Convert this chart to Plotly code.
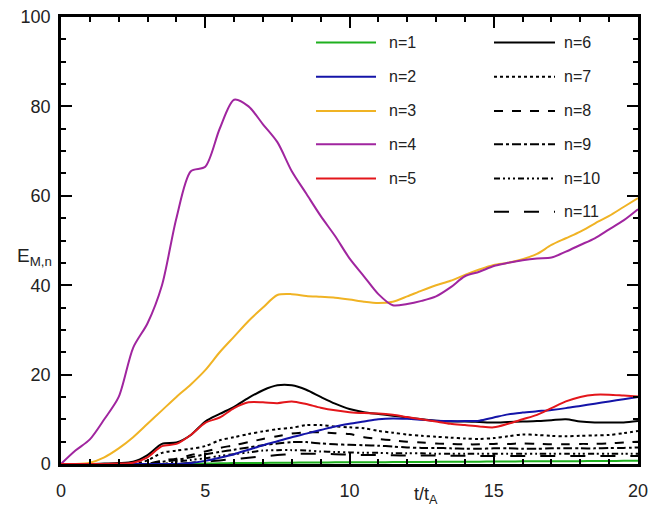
import plotly.graph_objects as go

# ---------------- data ----------------
t = [i * 0.5 for i in range(41)]

n1 = [0, 0, 0, 0, 0, 0, 0, 0, 0, 0.05, 0.1, 0.15, 0.2, 0.22, 0.25, 0.27, 0.3, 0.32, 0.34, 0.37, 0.4,
      0.4, 0.4, 0.42, 0.44, 0.46, 0.48, 0.5, 0.5, 0.52, 0.55, 0.57, 0.6, 0.6, 0.6, 0.62, 0.64, 0.66, 0.68, 0.7, 0.7]
n2 = [0, 0, 0, 0, 0, 0, 0, 0, 0, 0.2, 0.7, 1.4, 2.2, 3.2, 4.2, 5.1, 6.0, 6.8, 7.6, 8.4, 9.0,
      9.5, 10.0, 10.2, 10.1, 9.9, 9.7, 9.6, 9.6, 9.7, 10.4, 11.1, 11.5, 11.8, 12.1, 12.5, 13.0, 13.5, 14.0, 14.5, 15.0]
n3 = [0, 0, 0.3, 1.5, 3.5, 6, 9, 12, 15, 17.8, 21, 25, 28.5, 32, 35, 37.8, 38, 37.6, 37.4, 37.2, 36.8,
      36.3, 36, 36.3, 37.5, 38.8, 40, 41, 42.3, 43.5, 44.5, 45, 45.8, 47, 49, 50.5, 52, 53.8, 55.5, 57.5, 59.5]
n4 = [0, 3, 5.5, 10, 15, 26, 31.5, 40, 55, 65.5, 66.5, 75, 81.5, 80, 76, 72, 65.5, 60.5, 55.5, 51, 46,
      42, 38, 35.5, 35.8, 36.5, 37.5, 39.5, 42, 43, 44.3, 45, 45.6, 46, 46.2, 47.5, 49, 50.5, 52.5, 54.5, 57]
n5 = [0, 0, 0, 0, 0.1, 0.3, 1.5, 4, 4.5, 6.5, 9.2, 10.4, 12.5, 13.8, 13.8, 13.6, 14, 13.4, 12.6, 12, 11.6,
      11.4, 11.3, 11, 10.5, 10, 9.5, 9, 8.7, 8.4, 8.2, 9, 10, 11, 12.5, 14, 15, 15.5, 15.5, 15.3, 15.1]
n6 = [0, 0, 0, 0.1, 0.2, 0.5, 2, 4.5, 4.8, 6.5, 9.5, 11.2, 12.8, 14.8, 16.5, 17.6, 17.6, 16.6, 15, 13.5, 12.3,
      11.6, 11.2, 10.8, 10.4, 10, 9.7, 9.5, 9.5, 9.4, 9.3, 9.4, 9.5, 9.6, 9.8, 10, 9.5, 9.3, 9.3, 9.3, 9.6]
n7 = [0, 0, 0, 0, 0, 0, 0.8, 2.5, 3, 3.4, 4, 5.3, 6, 6.7, 7.3, 7.8, 8.1, 8.7, 8.7, 8.4, 8.2,
      8, 7.4, 7, 6.6, 6.3, 6.1, 5.9, 5.7, 5.6, 5.8, 6.2, 6.6, 6.5, 6.3, 6.2, 6.3, 6.4, 6.5, 6.9, 7.4]
n8 = [0, 0, 0, 0, 0, 0, 0, 0.8, 1.2, 2, 2.8, 3.6, 4.2, 4.9, 5.6, 6.2, 6.8, 7.1, 7.1, 6.9, 6.7,
      6, 5.6, 5.3, 5, 4.8, 4.6, 4.5, 4.4, 4.4, 4.5, 4.5, 4.6, 4.5, 4.4, 4.4, 4.5, 4.5, 4.6, 4.8, 5]
n9 = [0, 0, 0, 0, 0, 0, 0, 0.5, 0.9, 1.5, 2.2, 2.7, 3.2, 3.7, 4.2, 4.6, 4.9, 4.9, 4.6, 4.4, 4.3,
      4.2, 4.1, 3.9, 3.7, 3.6, 3.6, 3.5, 3.4, 3.4, 3.5, 3.5, 3.4, 3.4, 3.5, 3.5, 3.5, 3.5, 3.6, 3.6, 3.7]
n10 = [0, 0, 0, 0, 0, 0, 0, 0, 0.5, 0.9, 1.3, 1.8, 2.2, 2.6, 3, 3.1, 3.1, 3, 2.8, 2.7, 2.6,
       2.5, 2.5, 2.4, 2.4, 2.4, 2.3, 2.3, 2.3, 2.3, 2.3, 2.3, 2.3, 2.3, 2.3, 2.3, 2.3, 2.3, 2.3, 2.3, 2.3]
n11 = [0, 0, 0, 0, 0, 0, 0, 0, 0, 0.3, 0.5, 0.8, 1.1, 1.4, 1.7, 2, 2.2, 2.3, 2.3, 2.2, 2.1,
       2, 2, 1.95, 1.9, 1.9, 1.9, 1.85, 1.85, 1.8, 1.8, 1.8, 1.8, 1.8, 1.8, 1.8, 1.8, 1.8, 1.8, 1.8, 1.8]

labels = ["n=1", "n=2", "n=3", "n=4", "n=5", "n=6", "n=7", "n=8", "n=9", "n=10", "n=11"]
series = [n1, n2, n3, n4, n5, n6, n7, n8, n9, n10, n11]
x_ticks = [0, 5, 10, 15, 20]
y_ticks = [0, 20, 40, 60, 80, 100]

# ---------------- styles ----------------
colors = ["#1fb01f", "#1414a8", "#f0b324", "#a0259f", "#e3161b",
          "black", "black", "black", "black", "black", "black"]
dashes = ["solid", "solid", "solid", "solid", "solid",
          "solid", "dot", "dash", "dashdot", "6px,3px,2px,3px,2px,3px,2px,3px", "longdash"]
widths = [2, 2, 2, 2, 2, 2, 2, 2, 2, 2, 2]

fig = go.Figure()
order = [5, 6, 7, 8, 9, 10, 0, 1, 2, 3, 4]
for i in order:
    fig.add_trace(go.Scatter(
        x=t, y=series[i], mode="lines", name=labels[i],
        line=dict(color=colors[i], width=widths[i], dash=dashes[i], shape="spline", smoothing=0.8),
        showlegend=False,
    ))

# plot area in pixels
W, H = 672, 513
L, R, T, B = 61, 638, 7, 464


def px(x):
    return (x - L) / (R - L)


def py(y):
    return (B - y) / (B - T)


FONT = "Liberation Sans, Arial, Helvetica, sans-serif"

# manual two-column legend
rows = [33, 68, 103, 137, 172, 206]
cols = [(316, 376, 387), (494, 555, 562)]
shapes = []
annotations = []
for i, lab in enumerate(labels):
    c = 0 if i < 5 else 1
    r = i if i < 5 else i - 5
    x0, x1, xt = cols[c]
    yy = rows[r]
    shapes.append(dict(type="line", xref="paper", yref="paper",
                       x0=px(x0), x1=px(x1), y0=py(yy), y1=py(yy),
                       line=dict(color=colors[i], width=2, dash=dashes[i])))
    annotations.append(dict(x=px(xt), y=py(yy), xref="paper", yref="paper",
                            text=lab, showarrow=False, xanchor="left", yanchor="middle",
                            font=dict(family=FONT, size=16, color="#222")))

# axis titles
annotations.append(dict(x=px(426), y=py(496), xref="paper", yref="paper",
                        text="t/t<sub>A</sub>", showarrow=False, xanchor="center", yanchor="middle",
                        font=dict(family=FONT, size=18, color="#222")))
annotations.append(dict(x=px(34), y=py(252), xref="paper", yref="paper",
                        text="E<sub>M,n</sub>", showarrow=False, xanchor="center", yanchor="middle",
                        font=dict(family=FONT, size=19, color="#222")))

axis_common = dict(
    showgrid=False, zeroline=False, showline=True, linewidth=2.5, linecolor="black",
    mirror="ticks", ticks="inside", ticklen=11, tickwidth=2, tickcolor="black",
    tickfont=dict(family=FONT, size=18, color="#222"),
)

fig.update_layout(
    width=W, height=H,
    margin=dict(l=L, r=W - R, t=T, b=H - B, pad=0),
    plot_bgcolor="white", paper_bgcolor="white",
    xaxis=dict(range=[0, 20], tickvals=x_ticks, ticklabelstandoff=9,
               minor=dict(ticks="inside", dtick=1, ticklen=5, tickwidth=1.5, tickcolor="black"),
               **axis_common),
    yaxis=dict(range=[0, 100], tickvals=y_ticks, ticklabelstandoff=4,
               minor=dict(ticks="inside", dtick=5, ticklen=5, tickwidth=1.5, tickcolor="black"),
               **axis_common),
    shapes=shapes,
    annotations=annotations,
)

fig.write_html("out.html")
